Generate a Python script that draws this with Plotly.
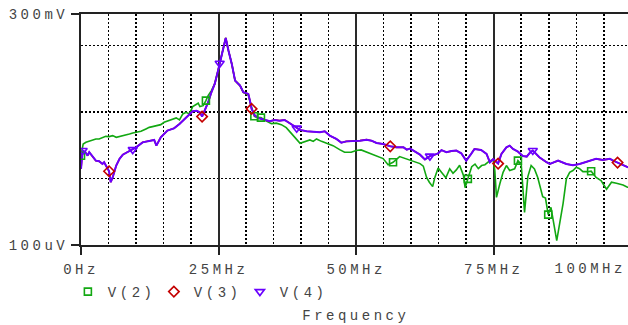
import math
import plotly.graph_objects as go

# ---- data (frequency in MHz, voltage in mV) ----
freq_v2_MHz = [0.0, 0.4, 0.9, 1.5, 2.1, 2.7, 3.3, 3.9, 4.5, 5.1,
               5.75, 6.4, 7.0, 7.6, 8.2, 8.8, 9.4, 10.0, 10.9, 11.8,
               12.4, 13.0, 13.6, 14.5, 15.1, 16.0, 16.6, 17.3, 17.9, 18.5,
               19.1, 19.7, 20.3, 20.8, 21.3, 21.6, 22.2, 22.7, 23.1, 23.7,
               24.3, 24.9, 25.2, 25.8, 26.3, 26.8, 27.4, 28.0, 28.9, 29.5,
               30.4, 30.7, 31.0, 31.5, 32.1, 32.7, 33.7, 34.6, 35.5, 36.4,
               37.3, 38.0, 38.9, 39.8, 40.7, 41.6, 42.2, 42.8, 43.7, 44.6,
               45.8, 47.0, 47.9, 49.1, 50.0, 50.9, 51.9, 53.1, 54.0, 54.9,
               55.8, 56.7, 57.9, 59.1, 60.4, 61.6, 62.2, 62.8, 63.3, 63.9,
               64.3, 64.9, 65.5, 66.3, 67.0, 67.6, 68.2, 68.8, 69.5, 69.8,
               70.3, 71.0, 71.6, 72.2, 72.8, 73.4, 74.3, 74.9, 75.2, 75.5,
               76.1, 76.7, 77.3, 77.9, 78.8, 79.4, 80.0, 80.3, 80.6, 81.2,
               81.8, 82.4, 83.0, 83.9, 84.4, 84.9, 85.4, 86.45, 87.0, 87.6,
               88.2, 88.8, 89.4, 90.0, 90.6, 91.2, 92.0, 92.7, 93.6, 94.5,
               95.5, 96.4, 97.3, 98.5, 99.3, 100.0]
v2_mV = [2.21, 3.32, 3.51, 3.63, 3.81, 3.95, 3.95, 4.18, 4.32, 4.28,
         4.43, 4.18, 4.28, 4.43, 4.59, 4.70, 4.86, 4.97, 5.14, 5.59,
         5.90, 6.05, 6.26, 6.48, 7.02, 7.45, 7.90, 8.18, 7.63, 9.40,
         9.93, 9.40, 12.1, 13.0, 13.6, 12.1, 12.5, 14.9, 17.7, 21.1,
         26.6, 42.1, 54.3, 84.2, 131, 84.2, 53.2, 29.8, 25.1, 19.9,
         18.3, 14.4, 12.1, 8.65, 8.26, 8.26, 7.32, 6.71, 6.83, 6.48,
         5.84, 5.09, 4.13, 3.39, 3.63, 3.81, 3.63, 3.95, 3.63, 3.39,
         3.13, 2.73, 2.49, 2.49, 2.64, 2.70, 2.49, 2.29, 2.14, 2.00,
         1.62, 1.76, 2.14, 1.98, 1.83, 1.68, 1.54, 1.04, 0.88, 0.756,
         1.04, 1.44, 1.24, 1.03, 1.40, 1.20, 1.35, 1.59, 1.11, 0.73,
         0.99, 1.51, 1.65, 1.41, 1.57, 1.62, 1.86, 1.91, 1.32, 0.52,
         0.83, 1.24, 1.57, 1.32, 1.40, 1.86, 1.62, 0.78, 0.31, 1.07,
         1.57, 1.40, 1.04, 0.535, 0.51, 0.287, 0.369, 0.116, 0.217, 0.42,
         0.99, 1.24, 1.32, 1.48, 1.41, 1.27, 1.27, 1.29, 1.04, 0.93,
         0.69, 0.88, 0.85, 0.80, 0.74, 0.73]

freq_v4_MHz = [0.0, 0.3, 0.8, 1.2, 1.5, 2.1, 2.7, 3.3, 3.9, 4.2,
               4.8, 5.1, 5.4, 5.75, 6.4, 7.0, 7.6, 8.8, 9.4, 10.0,
               11.2, 12.4, 13.3, 13.7, 14.5, 15.7, 16.9, 17.9, 19.1, 20.3,
               21.0, 21.6, 22.0, 22.5, 23.1, 23.7, 24.3, 24.9, 25.2, 25.8,
               26.3, 26.8, 27.4, 28.0, 28.9, 29.5, 30.4, 30.7, 31.0, 31.6,
               32.2, 32.8, 34.3, 35.2, 36.1, 37.0, 37.7, 38.3, 39.2, 39.8,
               41.0, 42.5, 43.4, 44.3, 45.2, 46.4, 47.3, 48.2, 49.5, 50.7,
               51.9, 52.8, 53.7, 54.9, 56.2, 57.3, 58.6, 59.2, 59.8, 60.9,
               61.6, 62.5, 63.4, 64.3, 64.9, 65.5, 66.4, 67.3, 68.2, 69.1,
               70.0, 70.9, 71.5, 72.7, 73.7, 74.3, 74.9, 75.8, 76.4, 77.3,
               77.9, 78.5, 79.4, 80.3, 81.0, 81.6, 82.1, 83.3, 84.0, 84.6,
               85.2, 86.7, 88.2, 89.4, 90.6, 91.5, 92.4, 93.6, 94.8, 96.1,
               96.9, 97.5, 98.5, 99.3, 100.0]
v4_mV = [1.40, 2.64, 2.49, 2.21, 2.49, 2.14, 1.86, 1.82, 1.66, 1.76,
         1.45, 1.29, 0.88, 1.04, 1.57, 1.98, 2.29, 2.57, 2.73, 2.95,
         3.51, 3.63, 3.81, 3.13, 4.18, 5.27, 5.70, 6.64, 8.35, 10.3,
         10.5, 9.93, 8.56, 10.5, 14.0, 19.9, 26.6, 42.1, 54.3, 84.2,
         131, 84.2, 53.2, 29.8, 25.1, 19.9, 18.8, 14.9, 11.2, 8.86,
         8.18, 7.90, 7.27, 7.63, 7.45, 7.63, 7.02, 6.48, 5.74, 5.40,
         5.14, 5.09, 4.97, 5.14, 4.43, 3.95, 3.47, 3.63, 3.66, 3.72,
         3.85, 3.72, 3.44, 3.32, 3.06, 2.95, 2.95, 2.73, 2.83, 2.49,
         2.29, 1.94, 2.18, 2.29, 2.40, 2.68, 2.49, 2.59, 2.64, 2.40,
         1.86, 2.35, 2.79, 2.70, 2.35, 1.76, 1.96, 1.68, 2.35, 2.95,
         3.13, 2.79, 2.54, 2.18, 2.14, 2.46, 2.64, 2.09, 1.89, 1.76,
         1.66, 1.86, 1.66, 1.59, 1.66, 1.74, 1.86, 1.98, 1.91, 1.98,
         1.83, 1.74, 1.62, 1.49, 1.45]

# V(3) lies exactly under V(4) in the reference (only its markers show)
freq_v3_MHz = freq_v4_MHz
v3_mV = v4_mV

# frequencies where each trace carries a marker
mark_v2_MHz = [0.0, 22.7, 31.5, 32.7, 56.7, 70.3, 79.4, 84.9, 92.7]
mark_v3_MHz = [5.1, 22.0, 31.0, 56.2, 75.8, 97.5]
mark_v4_MHz = [0.3, 9.4, 25.2, 39.2, 63.4, 82.1]

x_tick_vals = [0, 25, 50, 75]
x_tick_text = ["0Hz", "25MHz", "50MHz", "75MHz"]
x_last_label = "100MHz"
y_tick_vals = [1e-4, 0.3]
y_tick_text = ["100uV", "300mV"]
y_grid_vals = [1e-3, 1e-2, 1e-1]
x_title = "Frequency"

GREEN = "#12a812"
RED = "#c40000"
PURPLE = "#6a00ff"
FONT = dict(family="Liberation Mono", size=14, color="#444444")


def volts(mv):
    return [v / 1000.0 for v in mv]


def pick(freqs, vals, marks):
    lookup = dict(zip(freqs, vals))
    return marks, [lookup[m] / 1000.0 for m in marks]


fig = go.Figure()
fig.add_trace(go.Scatter(x=freq_v2_MHz, y=volts(v2_mV), mode="lines",
                         line=dict(color=GREEN, width=1.6), showlegend=False,
                         hoverinfo="skip"))
fig.add_trace(go.Scatter(x=freq_v3_MHz, y=volts(v3_mV), mode="lines",
                         line=dict(color=RED, width=1.6), showlegend=False,
                         hoverinfo="skip"))
fig.add_trace(go.Scatter(x=freq_v4_MHz, y=volts(v4_mV), mode="lines",
                         line=dict(color=PURPLE, width=2), showlegend=False,
                         hoverinfo="skip"))

mx, my = pick(freq_v2_MHz, v2_mV, mark_v2_MHz)
fig.add_trace(go.Scatter(x=mx, y=my, mode="markers", name="V(2)",
                         marker=dict(symbol="square-open", size=7, color=GREEN,
                                     line=dict(width=1.6, color=GREEN))))
mx, my = pick(freq_v3_MHz, v3_mV, mark_v3_MHz)
fig.add_trace(go.Scatter(x=mx, y=my, mode="markers", name="V(3)",
                         marker=dict(symbol="diamond-open", size=8, color=RED,
                                     line=dict(width=1.6, color=RED))))
mx, my = pick(freq_v4_MHz, v4_mV, mark_v4_MHz)
fig.add_trace(go.Scatter(x=mx, y=my, mode="markers", name="V(4)",
                         marker=dict(symbol="triangle-down-open", size=8, color=PURPLE,
                                     line=dict(width=1.6, color=PURPLE))))

DOTS = "2px,2px"
fig.update_layout(
    width=628, height=325,
    margin=dict(l=81, r=0, t=14, b=80, autoexpand=False),
    paper_bgcolor="white", plot_bgcolor="white",
    font=FONT,
    showlegend=True,
    hovermode=False,
    legend=dict(orientation="h", x=-0.024, xanchor="left", y=-0.2035, yanchor="middle",
                entrywidth=41, entrywidthmode="pixels", font=FONT,
                bgcolor="rgba(0,0,0,0)", borderwidth=0),
    xaxis=dict(range=[0, 99.4], tickmode="array", tickvals=x_tick_vals,
               ticktext=x_tick_text, ticks="outside", ticklen=8, tickwidth=2,
               tickcolor="#222", showline=True, linecolor="#222", linewidth=2,
               mirror=True, showgrid=True, gridcolor="#2a2a2a", gridwidth=2,
               zeroline=False, tickfont=FONT, automargin=False, ticklabelstandoff=2,
               minor=dict(dtick=5, tick0=0, showgrid=True, gridcolor="#000",
                          griddash=DOTS, gridwidth=1.5, ticks="")),
    yaxis=dict(type="log", range=[-4, math.log10(0.3)], tickmode="array",
               tickvals=y_tick_vals, ticktext=y_tick_text, ticks="outside",
               ticklen=8, tickwidth=2, tickcolor="#222", showline=True,
               linecolor="#222", linewidth=2, showgrid=False, zeroline=False,
               tickfont=FONT, automargin=False,
               minor=dict(tickmode="array", tickvals=y_grid_vals, showgrid=True,
                          gridcolor="#000", griddash=DOTS, gridwidth=1.5, ticks="")),
    annotations=[
        dict(text=x_last_label, xref="paper", yref="paper", x=1.0, y=-0.104,
             xanchor="right", yanchor="middle", showarrow=False, font=FONT,
             xshift=-11),
        dict(text=x_title, xref="paper", yref="paper", x=0.503, y=-0.307,
             xanchor="center", yanchor="middle", showarrow=False, font=FONT),
    ],
)

page_js = ("document.body.style.margin='0';"
           "document.body.style.overflow='hidden';"
           "document.querySelectorAll('text').forEach(function(t){"
           "t.style.letterSpacing='3.5px';});")
fig.write_html("out.html", post_script=page_js,
               config={"displayModeBar": False, "staticPlot": True})
